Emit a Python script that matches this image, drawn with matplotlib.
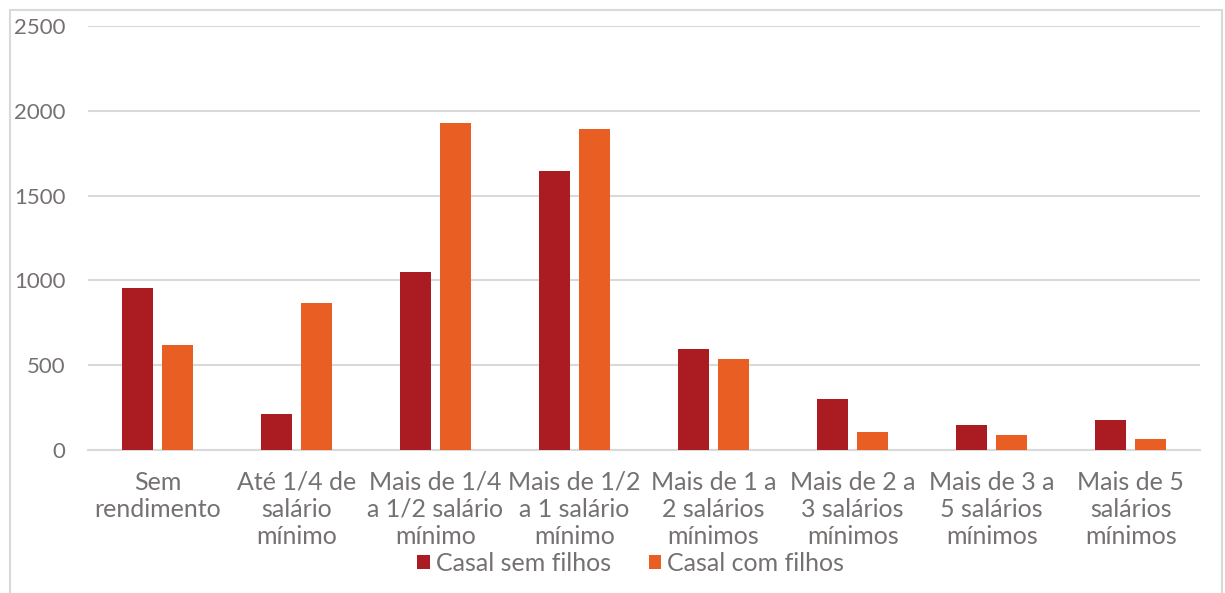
import matplotlib
matplotlib.use("Agg")
import matplotlib.pyplot as plt
import matplotlib.patches as mpatches
import numpy as np

plt.rcParams["font.family"] = ["Lato", "DejaVu Sans"]

# ── Data ──
categories = [
    "Sem\nrendimento",
    "Até 1/4 de\nsalário\nmínimo",
    "Mais de 1/4\na 1/2 salário\nmínimo",
    "Mais de 1/2\na 1 salário\nmínimo",
    "Mais de 1 a\n2 salários\nmínimos",
    "Mais de 2 a\n3 salários\nmínimos",
    "Mais de 3 a\n5 salários\nmínimos",
    "Mais de 5\nsalários\nmínimos",
]
sem_filhos = [955, 210, 1051, 1645, 594, 301, 147, 179]
com_filhos = [619, 867, 1926, 1891, 537, 104, 88, 63]
series_names = ["Casal sem filhos", "Casal com filhos"]
yticks = [0, 500, 1000, 1500, 2000, 2500]

DARK = "#AB1C22"
ORANGE = "#E95E22"
TEXT = "#767171"
GRID = "#D9D9D9"

fig = plt.figure(figsize=(12.25, 5.93), dpi=100)
ax = fig.add_axes([0.0718, 0.241, 0.908, 0.715])

x = np.arange(len(categories))
w = 0.223
off = 0.145
ax.bar(x - off, sem_filhos, w, color=DARK, label=series_names[0], zorder=3)
ax.bar(x + off, com_filhos, w, color=ORANGE, label=series_names[1], zorder=3)

ax.set_xlim(-0.5, len(categories) - 0.5)
ax.set_ylim(0, 2500)
ax.set_yticks(yticks)
ax.set_yticklabels([str(v) for v in yticks])
ax.set_xticks(x)
ax.set_xticklabels(categories, linespacing=1.2)
ax.tick_params(axis="both", length=0, colors=TEXT)
ax.tick_params(axis="y", pad=16, labelsize=16)
ax.tick_params(axis="x", pad=15, labelsize=18)
ax.grid(axis="y", color=GRID, linewidth=1.5, zorder=0)
for sp in ["top", "right", "left"]:
    ax.spines[sp].set_visible(False)
ax.spines["bottom"].set_color(GRID)
ax.spines["bottom"].set_linewidth(1.5)

leg = fig.legend(loc="center", bbox_to_anchor=(0.515, 0.05), ncol=2, frameon=False,
                 fontsize=18, handlelength=0.5, handleheight=0.5, handletextpad=0.25,
                 columnspacing=1.5)
for t in leg.get_texts():
    t.set_color(TEXT)

# light outer frame of the chart area
frame = mpatches.Rectangle((10 / 1225, -0.05), 1212 / 1225, 1 - 10 / 593 + 0.05,
                           transform=fig.transFigure, fill=False,
                           edgecolor=GRID, linewidth=1.5)
fig.patches.append(frame)

fig.savefig("out.png", dpi=100, facecolor="white")
plt.close(fig)
